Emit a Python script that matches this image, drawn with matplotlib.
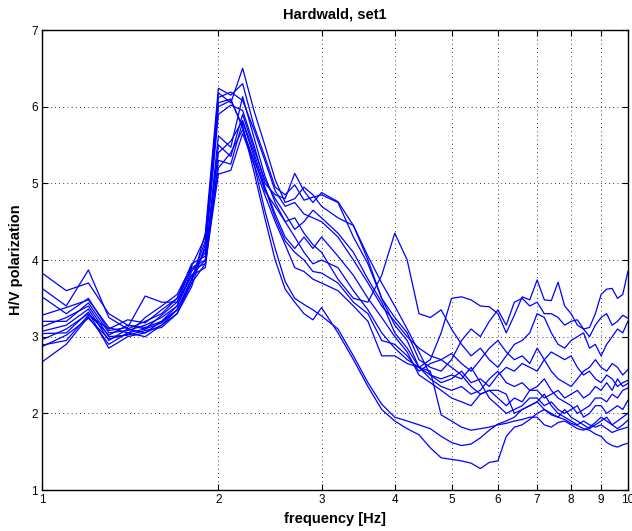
import matplotlib
matplotlib.use("Agg")
import matplotlib.pyplot as plt
from matplotlib.ticker import FixedLocator, NullLocator

# frequency samples [Hz]
freq = [1.0, 1.1, 1.2, 1.3, 1.4, 1.5, 1.6, 1.7, 1.8, 1.9,
        2.0, 2.1, 2.2, 2.3, 2.4, 2.5, 2.6, 2.7, 2.8, 2.9, 3.0,
        3.2, 3.4, 3.6, 3.8, 4.0, 4.2, 4.4, 4.6, 4.8, 5.0,
        5.2, 5.4, 5.6, 5.8, 6.0, 6.2, 6.4, 6.6, 6.8, 7.0,
        7.2, 7.4, 7.6, 7.8, 8.0, 8.2, 8.4, 8.6, 8.8, 9.0,
        9.2, 9.4, 9.6, 9.8, 10.0]

# H/V ratio, one list per measurement
hv_a = [3.83, 3.60, 3.70, 3.30, 3.15, 3.12, 3.20, 3.35, 3.70, 4.35,
        6.24, 6.15, 6.30, 5.75, 5.35, 4.95, 4.85, 4.98, 4.78, 4.82, 4.85,
        4.75, 4.30, 3.95, 3.50, 3.15, 2.95, 2.60, 2.70, 3.05, 3.50,
        3.52, 3.48, 3.40, 3.39, 3.30, 3.05, 3.28, 3.52, 3.48, 3.74,
        3.48, 3.47, 3.71, 3.40, 3.30, 3.15, 3.10, 3.12, 3.30, 3.55,
        3.62, 3.63, 3.50, 3.55, 3.85]
hv_b = [3.63, 3.40, 3.87, 3.25, 3.10, 3.05, 3.15, 3.30, 3.65, 4.20,
        6.18, 6.05, 6.50, 5.95, 5.50, 5.05, 4.75, 4.80, 4.95, 4.85, 4.70,
        4.55, 4.45, 4.00, 3.50, 3.25, 3.05, 2.70, 2.60, 2.55, 2.70,
        2.95, 3.10, 3.00, 3.20, 3.35, 3.15, 3.45, 3.50, 3.40, 3.45,
        3.30, 3.30, 3.25, 3.15, 3.20, 3.22, 3.10, 3.00, 3.15, 3.25,
        3.30, 3.15, 3.20, 3.28, 3.24]
hv_c = [3.52, 3.30, 3.50, 3.08, 3.12, 3.53, 3.45, 3.45, 3.80, 4.00,
        5.62, 5.47, 6.13, 5.60, 5.10, 4.75, 4.50, 4.55, 4.35, 4.20, 4.10,
        3.75, 3.50, 3.45, 3.80, 4.35, 4.00, 3.30, 3.25, 3.35, 3.10,
        2.90, 2.75, 2.85, 2.70, 2.60, 2.75, 2.90, 2.95, 3.05, 3.30,
        3.25, 3.05, 2.90, 2.85, 2.95, 3.00, 3.05, 2.85, 2.90, 2.75,
        2.90, 3.00, 3.10, 3.05, 3.20]
hv_d = [3.28, 3.38, 3.48, 3.12, 3.05, 3.10, 3.18, 3.35, 3.75, 4.25,
        6.12, 6.19, 6.08, 5.70, 5.30, 4.90, 4.70, 4.75, 4.60, 4.55, 4.50,
        4.30, 4.00, 3.70, 3.40, 3.20, 3.00, 2.85, 2.75, 2.70, 2.78,
        2.65, 2.55, 2.70, 2.85, 2.95, 2.80, 2.70, 2.75, 2.65, 2.85,
        2.70, 2.55, 2.45, 2.40, 2.35, 2.45, 2.55, 2.60, 2.70, 2.60,
        2.55, 2.65, 2.60, 2.50, 2.57]
hv_e = [3.20, 3.20, 3.44, 3.05, 3.08, 3.15, 3.25, 3.40, 3.85, 4.10,
        5.90, 6.02, 5.95, 5.50, 5.00, 4.85, 4.80, 5.13, 4.90, 4.75, 4.88,
        4.76, 4.45, 4.05, 3.70, 3.40, 3.10, 2.80, 2.50, 2.40, 2.45,
        2.55, 2.40, 2.45, 2.35, 2.50, 2.60, 2.55, 2.65, 2.60, 2.55,
        2.70, 2.80, 2.75, 2.70, 2.75, 2.60, 2.50, 2.55, 2.45, 2.40,
        2.50, 2.45, 2.35, 2.40, 2.43]
hv_f = [3.13, 3.25, 3.40, 3.00, 3.02, 3.08, 3.12, 3.30, 3.70, 3.95,
        5.50, 5.35, 5.90, 5.45, 5.05, 4.80, 4.60, 4.40, 4.50, 4.65, 4.55,
        4.35, 4.10, 3.75, 3.45, 3.05, 2.85, 2.60, 2.45, 2.35, 2.30,
        2.35, 2.25, 2.30, 2.45, 2.55, 2.40, 2.35, 2.40, 2.30, 2.30,
        2.20, 2.25, 2.30, 2.20, 2.25, 2.30, 2.20, 2.25, 2.35, 2.30,
        2.40, 2.30, 2.45, 2.35, 2.39]
hv_g = [3.07, 3.15, 3.36, 2.95, 3.10, 3.20, 3.30, 3.50, 3.95, 4.05,
        5.40, 5.55, 5.82, 5.40, 4.95, 4.55, 4.25, 4.10, 4.00, 3.85, 3.83,
        3.70, 3.45, 3.30, 2.95, 2.90, 2.75, 2.55, 2.65, 2.70, 2.60,
        2.50, 2.35, 2.25, 2.30, 2.20, 2.10, 2.20, 2.15, 2.30, 2.35,
        2.45, 2.30, 2.20, 2.15, 2.10, 2.00, 2.05, 2.10, 2.20, 2.20,
        2.15, 2.25, 2.20, 2.30, 2.33]
hv_h = [3.04, 3.05, 3.32, 2.85, 3.00, 3.05, 3.20, 3.40, 3.80, 3.90,
        5.30, 5.25, 5.80, 5.35, 4.90, 4.70, 4.50, 4.30, 4.10, 3.95, 4.00,
        3.90, 3.60, 3.35, 3.05, 2.85, 2.70, 2.60, 2.50, 2.45, 2.50,
        2.45, 2.60, 2.40, 2.20, 2.10, 2.00, 2.05, 2.10, 2.20, 2.20,
        2.10, 2.15, 2.05, 2.00, 2.05, 2.10, 1.95, 2.00, 2.10, 2.10,
        2.00, 2.05, 2.10, 2.05, 2.17]
hv_i = [2.96, 3.10, 3.30, 3.02, 3.15, 3.10, 3.28, 3.45, 3.90, 4.00,
        5.20, 5.40, 5.70, 5.30, 4.95, 4.60, 4.30, 4.15, 4.30, 4.15, 4.30,
        4.05, 3.80, 3.50, 3.25, 3.00, 2.80, 2.50, 2.40, 2.30, 2.20,
        2.15, 2.10, 2.25, 2.30, 2.30, 2.25, 2.00, 2.05, 2.10, 2.15,
        2.05, 2.00, 1.95, 2.05, 1.95, 1.90, 1.85, 1.80, 1.85, 1.90,
        1.95, 1.85, 1.90, 1.95, 2.00]
hv_j = [2.89, 2.95, 3.28, 3.10, 3.22, 3.18, 3.35, 3.50, 3.88, 3.95,
        5.12, 5.17, 5.65, 5.25, 4.85, 4.50, 4.20, 3.90, 3.85, 3.75, 3.70,
        3.60, 3.40, 3.20, 2.75, 2.75, 2.65, 2.60, 2.55, 1.98, 1.90,
        1.82, 1.78, 1.80, 1.82, 1.85, 1.87, 1.90, 1.92, 1.95, 1.95,
        1.85, 1.82, 1.88, 1.90, 1.85, 1.80, 1.78, 1.82, 1.88, 1.95,
        1.90, 1.85, 1.80, 1.85, 1.91]
hv_k = [2.87, 3.02, 3.24, 2.97, 3.03, 3.25, 3.40, 3.55, 3.92, 4.30,
        6.05, 6.10, 5.72, 5.25, 4.65, 4.15, 3.72, 3.50, 3.42, 3.35, 3.27,
        3.10, 2.75, 2.40, 2.12, 1.95, 1.90, 1.85, 1.80, 1.70, 1.62,
        1.58, 1.60, 1.68, 1.78, 1.86, 1.90, 1.95, 2.05, 2.10, 2.15,
        2.25, 2.10, 2.00, 1.95, 1.90, 1.85, 1.90, 1.85, 1.82, 1.85,
        1.80, 1.75, 1.78, 1.80, 1.82]
hv_l = [2.67, 2.90, 3.26, 2.90, 3.05, 3.00, 3.15, 3.35, 3.75, 4.15,
        6.00, 6.08, 5.75, 5.15, 4.55, 4.00, 3.62, 3.45, 3.30, 3.22, 3.38,
        3.05, 2.70, 2.35, 2.05, 1.90, 1.80, 1.72, 1.55, 1.42, 1.40,
        1.38, 1.35, 1.28, 1.36, 1.38, 1.70, 1.82, 1.85, 1.92, 2.00,
        2.05, 1.98, 1.95, 1.92, 1.87, 1.84, 1.80, 1.78, 1.73, 1.70,
        1.62, 1.58, 1.56, 1.59, 1.61]

curves = [hv_a, hv_b, hv_c, hv_d, hv_e, hv_f, hv_g, hv_h, hv_i, hv_j, hv_k, hv_l]

xticks = [1, 2, 3, 4, 5, 6, 7, 8, 9, 10]
yticks = [1, 2, 3, 4, 5, 6, 7]

plt.rcParams['font.family'] = ['Liberation Sans', 'DejaVu Sans']

fig = plt.figure(figsize=(6.32, 5.31), dpi=100)
ax = fig.add_axes([0.0665, 0.0772, 0.927, 0.8663])

for hv in curves:
    ax.plot(freq, hv, color=(0, 0, 1), lw=0.9)

ax.set_xscale('log')
ax.set_xlim(1, 10)
ax.set_ylim(1, 7)
ax.xaxis.set_major_locator(FixedLocator(xticks))
ax.xaxis.set_minor_locator(NullLocator())
ax.set_xticklabels([str(t) for t in xticks])
ax.set_yticks(yticks)
ax.set_yticklabels([str(t) for t in yticks])

ax.grid(True, which='major', linestyle=(0, (1, 4)), color='black', lw=0.6)
ax.tick_params(direction='in', length=4, width=0.8, top=True, right=True,
               labelsize=8.5, pad=3)
for s in ax.spines.values():
    s.set_linewidth(1.0)

ax.set_title('Hardwald, set1', fontsize=10.5, fontweight='bold', pad=8)
ax.set_xlabel('frequency [Hz]', fontsize=10.5, fontweight='bold', labelpad=4)
ax.set_ylabel('H/V polarization', fontsize=10.5, fontweight='bold', labelpad=6)

fig.savefig('out.png', dpi=100)
